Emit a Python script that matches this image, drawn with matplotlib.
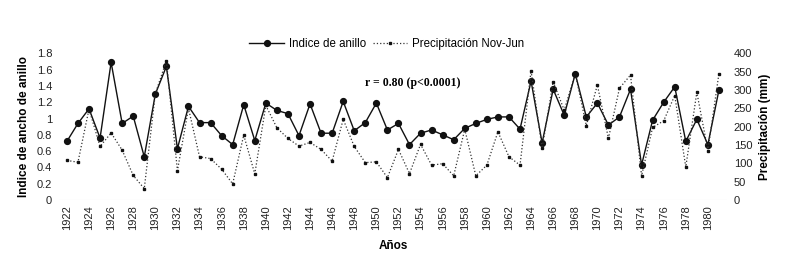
import matplotlib
matplotlib.use("Agg")
import matplotlib.pyplot as plt
import numpy as np

plt.rcParams['font.family'] = ['Liberation Sans', 'DejaVu Sans']

# years 1922-1981
years = np.arange(1922, 1982)

# ring width index (solid line)
ring_index = [0.72, 0.94, 1.12, 0.76, 1.69, 0.94, 1.03, 0.53, 1.30, 1.64,
              0.63, 1.15, 0.95, 0.95, 0.79, 0.68, 1.17, 0.73, 1.19, 1.10,
              1.06, 0.79, 1.18, 0.82, 0.82, 1.21, 0.85, 0.95, 1.19, 0.86,
              0.94, 0.68, 0.82, 0.86, 0.80, 0.74, 0.88, 0.94, 0.99, 1.02,
              1.02, 0.87, 1.46, 0.70, 1.36, 1.04, 1.55, 1.02, 1.19, 0.92,
              1.02, 1.36, 0.43, 0.98, 1.20, 1.39, 0.72, 0.99, 0.68, 1.35]

# Nov-Jun precipitation in mm (dotted line)
precip = [108, 103, 248, 146, 183, 136, 67, 31, 290, 380,
          80, 250, 118, 113, 84, 44, 177, 71, 258, 197,
          168, 147, 157, 138, 106, 220, 146, 102, 104, 61,
          138, 72, 152, 95, 99, 66, 193, 66, 95, 186,
          118, 95, 353, 141, 323, 245, 345, 203, 314, 168,
          305, 341, 66, 198, 216, 285, 90, 294, 135, 345]

fig = plt.figure(figsize=(7.89, 2.67), dpi=100)
ax = fig.add_axes([0.075, 0.251, 0.846, 0.549])
ax2 = ax.twinx()

l1, = ax.plot(years, ring_index, '-', color='#111111', lw=1.0, marker='o',
              ms=4.2, mfc='#111111', mec='#111111', clip_on=False, zorder=3,
              label='Indice de anillo')
l2, = ax2.plot(years, precip, ':', color='#333333', lw=0.9, marker='s',
               ms=1.9, mfc='#111111', mec='#111111', clip_on=False, zorder=2,
               label='Precipitación Nov-Jun')

ax.set_xlim(1921.3, 1981.7)
ax.set_ylim(0, 1.8)
ax2.set_ylim(0, 400)
ax.set_yticks(np.arange(0, 1.81, 0.2))
ax.set_yticklabels(['0', '0.2', '0.4', '0.6', '0.8', '1', '1.2', '1.4', '1.6', '1.8'])
ax2.set_yticks(np.arange(0, 401, 50))
ax.set_xticks(np.arange(1922, 1982, 2))
ax.tick_params(axis='x', labelrotation=90, length=0, pad=4, labelsize=8, colors='#222222')
ax.tick_params(axis='y', length=0, pad=5, labelsize=8, colors='#222222')
ax2.tick_params(axis='y', length=0, pad=5, labelsize=8, colors='#222222')

for a in (ax, ax2):
    for s in a.spines.values():
        s.set_visible(False)
ax.axhline(0, color='#dddddd', lw=0.8, zorder=0)

ax.set_ylabel('Indice de ancho de anillo', fontsize=8.5, fontweight='bold', labelpad=5)
ax2.set_ylabel('Precipitación (mm)', fontsize=8.5, fontweight='bold', labelpad=5)
ax.set_xlabel('Años', fontsize=8.5, fontweight='bold', labelpad=7)

fig.legend(handles=[l1, l2], loc='center', bbox_to_anchor=(0.49, 0.835), ncol=2,
           frameon=False, fontsize=8.3, handlelength=3, columnspacing=0.6,
           handletextpad=0.4)

fig.text(0.523, 0.689, 'r = 0.80 (p<0.0001)', family='Liberation Serif',
         fontweight='bold', fontsize=8.5, ha='center', va='center')

fig.savefig('out.png', dpi=100)
